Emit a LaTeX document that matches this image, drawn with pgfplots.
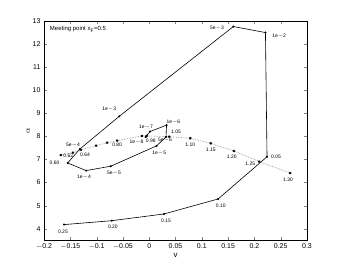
\documentclass[border=0pt]{standalone}
\usepackage{fontspec}
\setmainfont{Liberation Sans}
\usepackage{pgfplots}
\pgfplotsset{compat=1.18}
\begin{document}
\begin{tikzpicture}
\useasboundingbox (-44bp,-31bp) rectangle (296bp,240.3bp);
\begin{axis}[
  at={(0,0)}, anchor=south west,
  scale only axis, width=263bp, height=219.3bp,
  xmin=-0.2, xmax=0.3, ymin=3.5, ymax=13,
  xtick={-0.2,-0.15,...,0.31}, ytick={4,5,...,13},
  xticklabels={$-$0.2,$-$0.15,$-$0.1,$-$0.05,0,0.05,0.1,0.15,0.2,0.25,0.3},
  tick align=inside, tick pos=both,
  major tick length=3pt,
  /pgf/number format/assume math mode=true,
  tick label style={font=\fontsize{7}{8}\selectfont},
  xlabel={v}, ylabel={$\alpha$},
  label style={font=\fontsize{8}{9}\selectfont},
  xlabel style={yshift=3pt},
  ylabel style={yshift=-4pt},
  axis line style={line width=0.5pt},
  clip=false,
]
\addplot[black, line width=0.6pt, mark=*, mark size=0.7pt] coordinates {
(-0.162,4.18) (-0.071,4.35) (0.028,4.64) (0.131,5.29) (0.224,7.12)
(0.221,12.5) (0.160,12.76) (-0.057,8.87) (-0.132,7.45) (-0.155,6.85)
(-0.120,6.52) (-0.073,6.71) (0.014,7.59) (0.032,7.98) (0.033,8.49)
(0.0015,8.21) (-0.007,7.97)
};
\addplot[gray, densely dotted, line width=0.6pt, mark=asterisk, mark size=1.3pt, mark options={solid,black}] coordinates {
(-0.168,7.19) (-0.145,7.30) (-0.130,7.42) (-0.101,7.60) (-0.080,7.73)
(-0.061,7.82) (-0.014,8.02) (-0.005,8.02) (0.038,7.99) (0.078,7.92)
(0.117,7.70) (0.161,7.37) (0.209,6.91) (0.268,6.41)
};
\begin{scope}[every node/.style={font=\fontsize{5}{6}\selectfont, inner sep=0.5pt}]
\node at (axis cs:-0.164,3.89) {0.25};
\node at (axis cs:-0.069,4.09) {0.20};
\node at (axis cs:0.032,4.36) {0.15};
\node at (axis cs:0.136,5.00) {0.10};
\node at (axis cs:0.241,7.13) {0.05};
\node at (axis cs:0.247,12.35) {1e$-$2};
\node at (axis cs:0.129,12.67) {5e$-$3};
\node at (axis cs:-0.076,9.19) {1e$-$3};
\node at (axis cs:-0.145,7.63) {5e$-$4};
\node at (axis cs:-0.124,6.25) {1e$-$4};
\node at (axis cs:-0.067,6.42) {5e$-$5};
\node at (axis cs:0.019,7.27) {1e$-$5};
\node at (axis cs:0.030,7.84) {5e$-$6};
\node at (axis cs:0.046,8.61) {1e$-$6};
\node at (axis cs:-0.006,8.42) {1e$-$7};
\node at (axis cs:-0.024,7.73) {1e$-$8};
\node at (axis cs:-0.180,6.85) {0.60};
\node at (axis cs:-0.154,7.18) {0.62};
\node at (axis cs:-0.122,7.20) {0.64};
\node at (axis cs:-0.061,7.63) {0.80};
\node at (axis cs:0.003,7.79) {0.98};
\node at (axis cs:0.051,8.18) {1.05};
\node at (axis cs:0.078,7.63) {1.10};
\node at (axis cs:0.117,7.41) {1.15};
\node at (axis cs:0.157,7.11) {1.20};
\node at (axis cs:0.192,6.83) {1.25};
\node at (axis cs:0.264,6.12) {1.30};
\end{scope}
\node[anchor=west, font=\fontsize{6}{7}\selectfont, inner sep=0pt] at (rel axis cs:0.022,0.962) {Meeting point x\textsubscript{F}=0.5};
\end{axis}
\end{tikzpicture}
\end{document}
